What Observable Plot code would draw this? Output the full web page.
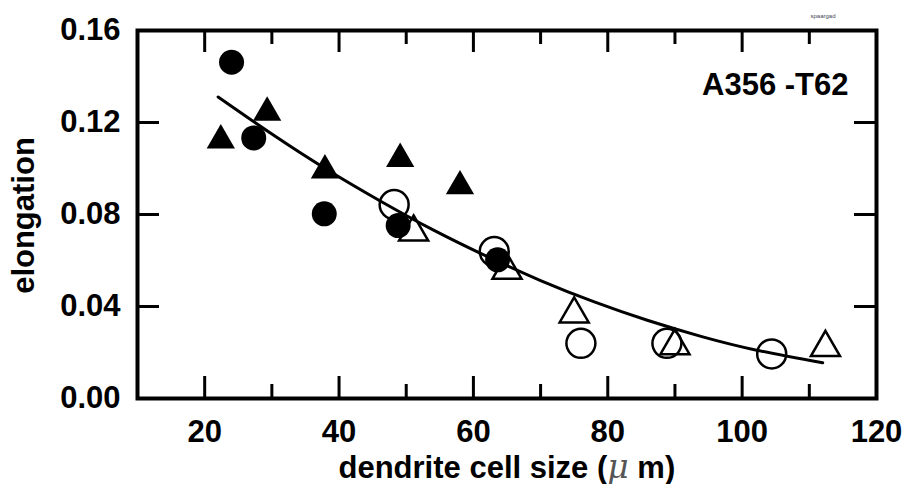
<!DOCTYPE html>
<html>
<head>
<meta charset="utf-8">
<script src="https://cdn.jsdelivr.net/npm/d3@7"></script>
<script src="https://cdn.jsdelivr.net/npm/@observablehq/plot@0.6"></script>
<style>
  html, body { margin: 0; padding: 0; background: #fff; }
</style>
</head>
<body>
<div id="chart"></div>
<script>
// ---- data ----
const filledCircleX = [24.0, 27.3, 37.8, 48.8, 63.6];
const filledCircleY = [0.1462, 0.1133, 0.0803, 0.0752, 0.0603];

const filledTriangleX = [22.4, 29.3, 37.9, 49.1, 58.0];
const filledTriangleY = [0.1122, 0.1243, 0.0992, 0.1042, 0.0923];

const openCircleX = [48.2, 63.1, 76.0, 88.8, 104.4];
const openCircleY = [0.0843, 0.0639, 0.0240, 0.0240, 0.0194];

const openTriangleX = [51.1, 65.0, 75.0, 90.0, 112.4];
const openTriangleY = [0.0723, 0.0557, 0.0367, 0.0229, 0.0221];

// fitted trend curve
const curveX = [22, 30, 38, 46, 54, 62, 70, 78, 86, 94, 102, 112];
const curveY = [0.1311, 0.1150, 0.0999, 0.0861, 0.0733, 0.0618, 0.0513, 0.0420, 0.0339, 0.0269, 0.0211, 0.0155];

const xMajorTicks = [20, 40, 60, 80, 100, 120];
const xMinorTicks = [30, 50, 70, 90, 110];
const yTicks = [0.00, 0.04, 0.08, 0.12, 0.16];
const yInnerTicks = [0.04, 0.08, 0.12];

const xLabel = "dendrite cell size (μ m)";
const yLabel = "elongation";
const annotation = "A356 -T62";
const watermark = "spaargad";

// ---- build ----
const zip = (xs, ys) => xs.map((x, i) => ({x, y: ys[i]}));

const width = 904, height = 484;
const mL = 137, mR = 28, mT = 30, mB = 86;
const innerW = width - mL - mR, innerH = height - mT - mB;
const majorLen = 22, minorLen = 14;

const chart = Plot.plot({
  width, height,
  marginLeft: mL, marginRight: mR, marginTop: mT, marginBottom: mB,
  style: {fontFamily: "'Liberation Sans', Arial, sans-serif", fontWeight: "bold", fontSize: "31px", color: "black", background: "white"},
  x: {domain: [10, 120]},
  y: {domain: [0, 0.16]},
  marks: [
    // tick labels
    Plot.axisX(xMajorTicks, {tickSize: 0, tickPadding: 21, tickFormat: d => String(d), label: null}),
    Plot.axisY(yTicks, {tickSize: 0, tickPadding: 17, tickFormat: d3.format(".2f"), label: null}),
    // inward ticks
    Plot.ruleX(xMajorTicks.filter(d => d < 120), {x: d => d, insetTop: innerH - majorLen, stroke: "black", strokeWidth: 3}),
    Plot.ruleX(xMajorTicks.filter(d => d < 120), {x: d => d, insetBottom: innerH - majorLen, stroke: "black", strokeWidth: 3}),
    Plot.ruleX(xMinorTicks, {x: d => d, insetTop: innerH - minorLen, stroke: "black", strokeWidth: 3}),
    Plot.ruleX(xMinorTicks, {x: d => d, insetBottom: innerH - minorLen, stroke: "black", strokeWidth: 3}),
    Plot.ruleY(yInnerTicks, {y: d => d, insetRight: innerW - majorLen, stroke: "black", strokeWidth: 3}),
    Plot.ruleY(yInnerTicks, {y: d => d, insetLeft: innerW - majorLen, stroke: "black", strokeWidth: 3}),
    Plot.frame({stroke: "black", strokeWidth: 4}),
    // data
    Plot.dot(zip(openCircleX, openCircleY), {x: "x", y: "y", r: 14.5, fill: "none", stroke: "black", strokeWidth: 2.5}),
    Plot.dot(zip(openTriangleX, openTriangleY), {x: "x", y: "y", symbol: "triangle", r: 10.8, fill: "none", stroke: "black", strokeWidth: 2.5}),
    Plot.line(zip(curveX, curveY), {x: "x", y: "y", curve: "natural", stroke: "black", strokeWidth: 3}),
    Plot.dot(zip(filledTriangleX, filledTriangleY), {x: "x", y: "y", symbol: "triangle", r: 10.5, fill: "black", stroke: "none"}),
    Plot.dot(zip(filledCircleX, filledCircleY), {x: "x", y: "y", r: 12.5, fill: "black", stroke: "none"}),
    // texts
    Plot.text([annotation], {text: d => d, frameAnchor: "top-right", textAnchor: "end", lineAnchor: "bottom", dx: -28, dy: 64, fontSize: 31}),
    Plot.text([xLabel], {text: d => d, frameAnchor: "bottom-left", textAnchor: "start", lineAnchor: "bottom", dx: 201, dy: 79, fontSize: 31}),
    Plot.text([yLabel], {text: d => d, frameAnchor: "left", textAnchor: "middle", lineAnchor: "bottom", rotate: -90, dx: -104, dy: 1, fontSize: 31}),
    Plot.text([watermark], {text: d => d, frameAnchor: "top-right", textAnchor: "end", lineAnchor: "bottom", dx: -41, dy: -13, fontSize: 6, fontWeight: "normal", fill: "#445"})
  ]
});

// style the μ like the original (light italic)
d3.select(chart).selectAll("text").each(function() {
  const el = this;
  if (el.childElementCount === 0 && el.textContent === xLabel) {
    const i = xLabel.indexOf("μ");
    const sel = d3.select(el);
    sel.text(null);
    sel.append("tspan").text(xLabel.slice(0, i));
    sel.append("tspan").text("μ").attr("font-style", "italic").attr("font-weight", "normal").attr("fill", "#555").attr("font-size", "33px").attr("font-family", "'DejaVu Serif', serif");
    sel.append("tspan").text(xLabel.slice(i + 1));
  }
});

document.getElementById("chart").appendChild(chart);
</script>
</body>
</html>
